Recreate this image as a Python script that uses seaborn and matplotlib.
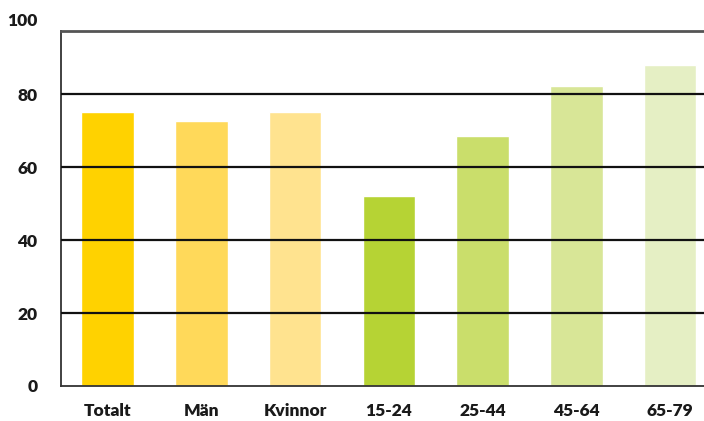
import matplotlib
matplotlib.use("Agg")
import matplotlib.pyplot as plt
import seaborn as sns
import pandas as pd

categories = ["Totalt", "Män", "Kvinnor", "15-24", "25-44", "45-64", "65-79"]
values = [75, 72.6, 75, 52, 68.5, 82.2, 88.1]
colors = ["#FFD200", "#FFD95A", "#FFE38F", "#B6D334", "#CADE6B", "#D8E697", "#E5EFC4"]
yticks = [0, 20, 40, 60, 80]

sns.set_theme(style="white")
plt.rcParams["font.family"] = ["Lato", "DejaVu Sans"]

df = pd.DataFrame({"cat": categories, "val": values})

fig = plt.figure(figsize=(7.04, 4.21), dpi=100)
ax = fig.add_axes([61/704, 1 - 386/421, 1 - 61/704, 355/421])

sns.barplot(data=df, x="cat", y="val", hue="cat", palette=colors, order=categories,
            hue_order=categories, legend=False, width=0.56, saturation=1, ax=ax)

ax.set_xlim(-0.498, 6.36)
ax.set_ylim(0, 97.3)
ax.set_yticks(yticks)
ax.set_yticklabels([str(t) for t in yticks])
ax.set_xlabel("")
ax.set_ylabel("")

for t in [20, 40, 60, 80]:
    ax.axhline(t, color="#111111", lw=1.6, zorder=3)

ax.tick_params(axis="y", length=0, pad=17, labelsize=12.5, labelcolor="#1a1a1a")
ax.tick_params(axis="x", length=0, pad=12.5, labelsize=12.5, labelcolor="#1a1a1a")
for lab in ax.get_yticklabels() + ax.get_xticklabels():
    lab.set_fontweight("heavy")

ax.annotate("100", xy=(0, 100), xycoords=("axes fraction", "data"),
            xytext=(-17, 0), textcoords="offset points", ha="right", va="center",
            fontsize=12.5, fontweight="heavy", color="#1a1a1a", annotation_clip=False)

for side in ["left", "bottom"]:
    ax.spines[side].set_color("#333333")
    ax.spines[side].set_linewidth(1.3)
ax.spines["top"].set_color("#555555")
ax.spines["top"].set_linewidth(2)
ax.spines["right"].set_visible(False)

fig.savefig("out.png", dpi=100)
